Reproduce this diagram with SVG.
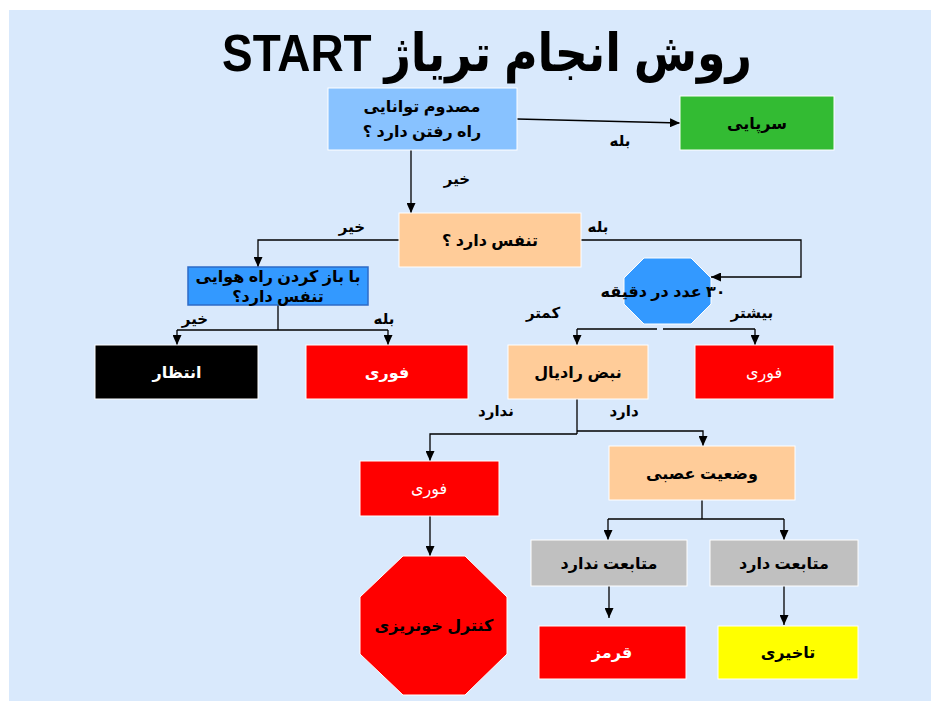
<svg xmlns="http://www.w3.org/2000/svg" width="931" height="701" viewBox="0 0 931 701">
<defs>
<marker id="ah" markerUnits="userSpaceOnUse" markerWidth="10" markerHeight="9" refX="10" refY="4.5" orient="auto">
<path d="M0,0 L10,4.5 L0,9 z" fill="#000"/>
</marker>
<style>
text{font-family:"Liberation Sans","DejaVu Sans",sans-serif;direction:rtl;unicode-bidi:embed;text-anchor:middle}
.t{font-size:16px;font-weight:bold;fill:#000}
.w{font-size:16px;fill:#fff}
.wb{font-size:16px;font-weight:bold;fill:#fff}
.lbl{font-size:15px;font-weight:bold;fill:#000}
.box{stroke:#fff;stroke-width:1}
.c{fill:none;stroke:#000;stroke-width:1.3}
.ca{fill:none;stroke:#000;stroke-width:1.3;marker-end:url(#ah)}
</style>
</defs>
<rect x="0" y="0" width="931" height="701" fill="#fff"/>
<rect x="9" y="10" width="922" height="691" fill="#D9E9FC"/>
<text x="487" y="71" textLength="530" lengthAdjust="spacingAndGlyphs" style="font-size:52px;font-weight:bold;fill:#000">روش انجام تریاژ START</text>

<g id="connectors">
<line class="ca" x1="517" y1="119" x2="680" y2="123"/>
<line class="ca" x1="411" y1="150" x2="411" y2="213"/>
<polyline class="ca" points="399,240 258,240 258,267"/>
<polyline class="ca" points="581,240 801,240 801,277 711,277"/>
<line class="c" x1="278" y1="305" x2="278" y2="330"/>
<line class="c" x1="177" y1="330" x2="388" y2="330"/>
<line class="ca" x1="177" y1="330" x2="177" y2="345"/>
<line class="ca" x1="388" y1="330" x2="388" y2="345"/>
<line class="c" x1="577" y1="329" x2="657" y2="329"/>
<line class="c" x1="663" y1="329" x2="755" y2="329"/>
<line class="ca" x1="577" y1="329" x2="577" y2="345"/>
<line class="ca" x1="755" y1="329" x2="755" y2="345"/>
<line class="c" x1="577" y1="399" x2="577" y2="434"/>
<polyline class="ca" points="577,434 430,434 430,461"/>
<polyline class="ca" points="577,431 703,431 703,446"/>
<line class="c" x1="702" y1="500" x2="702" y2="519"/>
<line class="c" x1="608" y1="519" x2="784" y2="519"/>
<line class="ca" x1="608" y1="519" x2="608" y2="540"/>
<line class="ca" x1="784" y1="519" x2="784" y2="540"/>
<line class="ca" x1="609" y1="586" x2="609" y2="618"/>
<line class="ca" x1="784" y1="586" x2="784" y2="625"/>
<line class="ca" x1="430" y1="516" x2="430" y2="556"/>
<text class="lbl" x="620" y="146">بله</text>
<text class="lbl" x="457" y="184">خیر</text>
<text class="lbl" x="352" y="232">خیر</text>
<text class="lbl" x="598" y="232">بله</text>
<text class="lbl" x="195" y="324">خیر</text>
<text class="lbl" x="384" y="324">بله</text>
<text class="lbl" x="543" y="318">کمتر</text>
<text class="lbl" x="752" y="318">بیشتر</text>
<text class="lbl" x="496" y="416">ندارد</text>
<text class="lbl" x="624" y="416">دارد</text>
</g>

<g id="n-walk">
<rect class="box" x="328" y="88" width="189" height="62" fill="#88C2FF"/>
<text class="t" x="422" y="112">مصدوم توانایی</text>
<text class="t" x="422" y="137">راه رفتن دارد ؟</text>
</g>
<g id="n-sarpaei">
<rect class="box" x="680" y="96" width="154" height="54" fill="#33BB33"/>
<text class="t" x="757" y="129">سرپایی</text>
</g>
<g id="n-breath">
<rect class="box" x="399" y="213" width="182" height="54" fill="#FFCC99"/>
<text class="t" x="490" y="246">تنفس دارد ؟</text>
</g>
<g id="n-airway">
<rect x="188" y="267" width="180" height="38" fill="#3399FF" stroke="#2E6BC6" stroke-width="1.5"/>
<text class="t" x="278" y="282">با باز کردن راه هوایی</text>
<text class="t" x="278" y="302">تنفس دارد؟</text>
</g>
<g id="n-rate">
<polygon points="644,258 691,258 711,278 711,304 691,324 644,324 624,304 624,278" fill="#3399FF" stroke="#fff" stroke-width="1"/>
<text class="t" x="663" y="297">۳۰ عدد در دقیقه</text>
</g>
<g id="n-wait">
<rect class="box" x="95" y="345" width="163" height="54" fill="#000"/>
<text class="wb" x="177" y="378">انتظار</text>
</g>
<g id="n-fori1">
<rect class="box" x="306" y="345" width="162" height="54" fill="#FF0000"/>
<text class="wb" x="387" y="378">فوری</text>
</g>
<g id="n-radial">
<rect class="box" x="508" y="345" width="140" height="54" fill="#FFCC99"/>
<text class="t" x="578" y="378">نبض رادیال</text>
</g>
<g id="n-fori2">
<rect class="box" x="695" y="345" width="139" height="54" fill="#FF0000"/>
<text class="w" x="764" y="378">فوری</text>
</g>
<g id="n-fori3">
<rect class="box" x="360" y="461" width="139" height="55" fill="#FF0000"/>
<text class="w" x="429" y="494">فوری</text>
</g>
<g id="n-neuro">
<rect class="box" x="609" y="446" width="186" height="54" fill="#FFCC99"/>
<text class="t" x="702" y="479">وضعیت عصبی</text>
</g>
<g id="n-noobey">
<rect class="box" x="531" y="540" width="156" height="46" fill="#C0C0C0"/>
<text class="t" x="609" y="569">متابعت ندارد</text>
</g>
<g id="n-obey">
<rect class="box" x="710" y="540" width="148" height="46" fill="#C0C0C0"/>
<text class="t" x="784" y="569">متابعت دارد</text>
</g>
<g id="n-red">
<rect class="box" x="539" y="626" width="147" height="53" fill="#FF0000"/>
<text class="wb" x="612" y="658">قرمز</text>
</g>
<g id="n-delay">
<rect class="box" x="718" y="626" width="140" height="53" fill="#FFFF00"/>
<text class="t" x="788" y="658">تاخیری</text>
</g>
<g id="n-bleed">
<polygon points="403,556 465,556 507,597 507,654 465,695 403,695 360,654 360,597" fill="#FF0000" stroke="#fff" stroke-width="1"/>
<text class="t" x="434" y="631">کنترل خونریزی</text>
</g>
</svg>
